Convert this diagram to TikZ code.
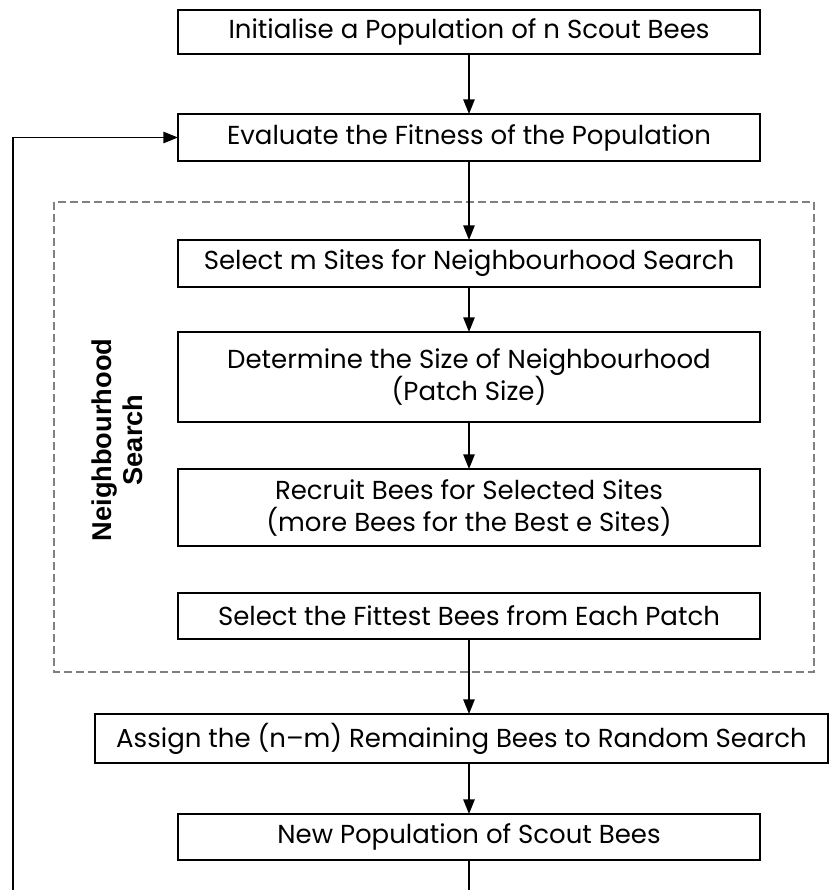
\documentclass[tikz,border=0pt]{standalone}
\usepackage{fontspec}
\newfontfamily\labelfont{Liberation Sans}
\newfontfamily\gothicfont{Poppins}
\usetikzlibrary{arrows.meta}
\begin{document}
\begin{tikzpicture}[x=0.75pt,y=-0.75pt,
  every node/.style={inner sep=0pt, outer sep=0pt},
  stepbox/.style={draw, line width=1.3pt, minimum width=436.5pt, align=center,
     font=\gothicfont\fontsize{19.5}{24}\selectfont},
  flow/.style={line width=1.3pt, -{Triangle[length=11pt,width=8.5pt]}},
  plain/.style={line width=1.3pt},
  group/.style={draw=gray, line width=1.3pt, dash pattern=on 6pt off 3pt}]
\useasboundingbox (0,0) rectangle (829,890);
\node[stepbox, minimum height=33pt] (b1) at (469,32) {Initialise a Population of n Scout Bees};
\node[stepbox, minimum height=35.25pt] (b2) at (469,137.5) {Evaluate the Fitness of the Population};
\draw[group] (54,202) rectangle (814,672);
\node[stepbox, minimum height=35.25pt] (b3) at (469,263.5) {Select m Sites for Neighbourhood Search};
\node[stepbox, minimum height=67.5pt] (b4) at (469,377) {Determine the Size of Neighbourhood\\(Patch Size)};
\node[stepbox, minimum height=57.75pt] (b5) at (469,507.5) {Recruit Bees for Selected Sites\\(more Bees for the Best e Sites)};
\node[stepbox, minimum height=34.5pt] (b6) at (469,616) {Select the Fittest Bees from Each Patch};
\node[stepbox, minimum width=549.75pt, minimum height=36.75pt] (b7) at (461.5,738.5) {Assign the (n–m) Remaining Bees to Random Search};
\node[stepbox, minimum height=34.5pt] (b8) at (469,837) {New Population of Scout Bees};
\node[rotate=90, align=center, font=\labelfont\bfseries\fontsize{20.4}{23}\selectfont] (lab) at (117,440) {Neighbourhood\\Search};
\coordinate (endA) at (469,892);
\coordinate (endB) at (13,892);
\coordinate (turn) at (endB |- b2.west);
\draw[flow] (b1) -- (b2);
\draw[flow] (b2) -- (b3);
\draw[flow] (b3) -- (b4);
\draw[flow] (b4) -- (b5);
\draw[flow] (b6.south) -- (b7.north -| b6.south);
\draw[flow] (b7.south -| b8.north) -- (b8.north);
\draw[plain] (b8.south) -- (endA);
\draw[flow] (endB) -- (turn) -- (b2.west);
\end{tikzpicture}
\end{document}
